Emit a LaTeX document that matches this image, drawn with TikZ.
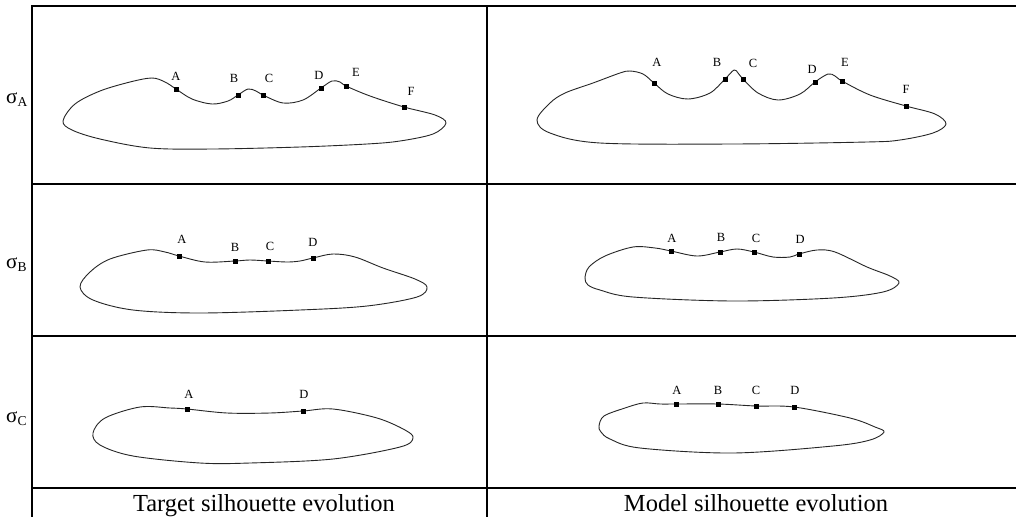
\documentclass[tikz,border=0pt]{standalone}
\usepackage{fontspec}
\setmainfont{Liberation Serif}
\begin{document}
\begin{tikzpicture}[x=1pt,y=-1pt,
  grid/.style={line width=2pt,black},
  outline/.style={line width=0.9pt,black!85,smooth cycle,tension=0.55},
  mk/.style={fill=black,draw=none,minimum size=5pt,inner sep=0pt,rectangle},
  lbl/.style={font=\fontsize{12.5}{12.5}\selectfont,inner sep=0pt,anchor=base},
  sig/.style={anchor=base west,inner sep=0pt},
  captxt/.style={font=\fontsize{24.5}{24.5}\selectfont,inner sep=0pt,anchor=base}]
\useasboundingbox (0,0) rectangle (1016,517);
\fill[white] (0,0) rectangle (1016,517);
% table
\draw[grid] (31,6) -- (1016,6);
\draw[grid] (31,184) -- (1016,184);
\draw[grid] (31,336) -- (1016,336);
\draw[grid] (31,488) -- (1016,488);
\draw[grid] (32,5) -- (32,517);
\draw[grid] (487,5) -- (487,517);
% row labels
\node[sig] (sa) at (6,103) {\fontsize{21}{21}\selectfont σ\raisebox{-3pt}{\fontsize{13.5}{13.5}\selectfont A}};
\node[sig] (sb) at (6,268) {\fontsize{21}{21}\selectfont σ\raisebox{-3pt}{\fontsize{13.5}{13.5}\selectfont B}};
\node[sig] (sc) at (6,422) {\fontsize{21}{21}\selectfont σ\raisebox{-3pt}{\fontsize{13.5}{13.5}\selectfont C}};
% captions
\node[captxt] (ct) at (264,511) {Target silhouette evolution};
\node[captxt] (cm) at (756,511) {Model silhouette evolution};

% ---- curve 1: target sigma A
\draw[outline] plot coordinates {(63,121) (75,104) (100,91) (130,82) (152,78) (165,82) (176,89) (192,99) (212,104) (228,101) (238,95) (248,89) (256,91) (263,95) (283,103) (303,100) (321,88) (332,81) (340,82) (346,86) (370,96) (404,107) (435,115) (446,123) (433,134) (400,141) (367,144) (300,147) (213,149) (150,148) (100,139) (72,130)};
\node[mk] (t1a) at (176,89) {};
\node[mk] (t1b) at (238,95) {};
\node[mk] (t1c) at (263,95) {};
\node[mk] (t1d) at (321,88) {};
\node[mk] (t1e) at (346,86) {};
\node[mk] (t1f) at (404,107) {};
\node[lbl] (lt1a) at (176,80) {A};
\node[lbl] (lt1b) at (234,82) {B};
\node[lbl] (lt1c) at (269,82) {C};
\node[lbl] (lt1d) at (319,79) {D};
\node[lbl] (lt1e) at (356,76) {E};
\node[lbl] (lt1f) at (411,95) {F};

% ---- curve 2: model sigma A
\draw[outline] plot coordinates {(537,120) (550,103) (565,93) (593,83) (620,73) (630,71) (643,74) (654,83) (668,94) (688,99) (710,93) (725,79) (734,70) (738,73) (743,79) (758,93) (778,100) (800,94) (815,82) (828,74) (835,76) (842,81) (870,95) (906,106) (935,114) (946,124) (933,133) (900,140) (867,142) (733,144) (600,143) (550,133)};
\node[mk] (m1a) at (654,83) {};
\node[mk] (m1b) at (725,79) {};
\node[mk] (m1c) at (743,79) {};
\node[mk] (m1d) at (815,82) {};
\node[mk] (m1e) at (842,81) {};
\node[mk] (m1f) at (906,106) {};
\node[lbl] (lm1a) at (657,66) {A};
\node[lbl] (lm1b) at (717,66) {B};
\node[lbl] (lm1c) at (753,67) {C};
\node[lbl] (lm1d) at (812,73) {D};
\node[lbl] (lm1e) at (845,66) {E};
\node[lbl] (lm1f) at (906,93) {F};

% ---- curve 3: target sigma B
\draw[outline] plot coordinates {(80,287) (90,272) (110,259) (147,250) (165,252) (179,256) (205,262) (235,261) (250,260) (268,261) (287,262) (300,261) (313,258) (333,254) (355,257) (383,268) (415,279) (427,287) (417,297) (367,306) (300,310) (200,313) (133,310) (93,300)};
\node[mk] (t2a) at (179,256) {};
\node[mk] (t2b) at (235,261) {};
\node[mk] (t2c) at (268,261) {};
\node[mk] (t2d) at (313,258) {};
\node[lbl] (lt2a) at (182,243) {A};
\node[lbl] (lt2b) at (235,251) {B};
\node[lbl] (lt2c) at (270,250) {C};
\node[lbl] (lt2d) at (313,246) {D};

% ---- curve 4: model sigma B
\draw[outline] plot coordinates {(585,278) (589,267) (605,256) (633,247) (655,248) (671,251) (697,256) (720,252) (737,249) (754,252) (773,257) (790,257) (799,254) (817,250) (835,252) (867,267) (890,276) (899,283) (883,292) (833,298) (733,301) (633,297) (600,290) (588,285)};
\node[mk] (m2a) at (671,251) {};
\node[mk] (m2b) at (720,252) {};
\node[mk] (m2c) at (754,252) {};
\node[mk] (m2d) at (799,254) {};
\node[lbl] (lm2a) at (672,242) {A};
\node[lbl] (lm2b) at (721,241) {B};
\node[lbl] (lm2c) at (756,242) {C};
\node[lbl] (lm2d) at (800,243) {D};

% ---- curve 5: target sigma C
\draw[outline] plot coordinates {(93,433) (105,418) (140,407) (170,408) (187,409) (227,413) (270,413) (303,411) (333,409) (377,418) (405,430) (413,438) (400,447) (333,459) (250,463) (200,463) (133,456) (100,445)};
\node[mk] (t3a) at (187,409) {};
\node[mk] (t3d) at (303,411) {};
\node[lbl] (lt3a) at (189,398) {A};
\node[lbl] (lt3d) at (304,398) {D};

% ---- curve 6: model sigma C
\draw[outline] plot coordinates {(599,426) (604,416) (625,408) (643,403) (660,404) (676,404) (718,404) (756,406) (794,407) (850,418) (875,427) (884,432) (870,440) (833,446) (733,453) (640,448) (610,439) (601,432)};
\node[mk] (m3a) at (676,404) {};
\node[mk] (m3b) at (718,404) {};
\node[mk] (m3c) at (756,406) {};
\node[mk] (m3d) at (794,407) {};
\node[lbl] (lm3a) at (677,394) {A};
\node[lbl] (lm3b) at (718,394) {B};
\node[lbl] (lm3c) at (756,394) {C};
\node[lbl] (lm3d) at (795,394) {D};
\end{tikzpicture}
\end{document}
